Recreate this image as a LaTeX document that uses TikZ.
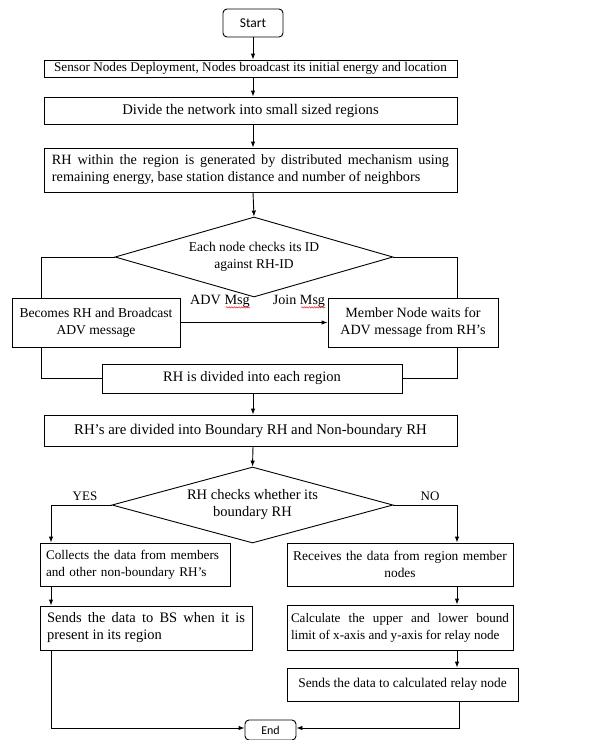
\documentclass[tikz,border=0pt]{standalone}
\usepackage{fontspec}
\setmainfont{Liberation Serif}
\newfontfamily\calib{Carlito}
\usetikzlibrary{shapes.geometric,arrows.meta,decorations.pathmorphing}
\newcommand{\fs}[1]{\fontsize{#1}{17}\selectfont}
\begin{document}
\begin{tikzpicture}[x=1pt,y=-1pt,
  txt/.style={font=\fontsize{14}{17}\selectfont},
  box/.style={draw,line width=0.9pt,inner sep=0pt,align=center,txt},
  dia/.style={draw,diamond,shape aspect=3.5,inner sep=0pt,line width=0.9pt,align=center,txt},
  term/.style={draw,rounded corners=4pt,line width=0.9pt,inner sep=0pt},
  arr/.style={-{Latex[length=6pt,width=4.5pt]},line width=0.9pt},
  ln/.style={line width=0.9pt},
  lbl/.style={inner sep=0pt,txt},
  squig/.style={red,line width=0.4pt,decorate,decoration={snake,amplitude=0.7pt,segment length=2.5pt}}]
\useasboundingbox (0,0) rectangle (596,740);
\fill[white] (0,0) rectangle (596,740);

\node[term,minimum width=60pt,minimum height=28pt,font=\calib\fontsize{13.5}{15}\selectfont] (start) at (253,23) {Start};
\node[box,minimum width=413pt,minimum height=17pt,font=\fs{13.2}] (b1) at (250.5,68.5)
  {Sensor Nodes Deployment, Nodes broadcast its initial energy and location};
\node[box,minimum width=413pt,minimum height=27pt,font=\fs{14.7}] (b2) at (250.5,110.5)
  {Divide the network into small sized regions};
\node[box,minimum width=413pt,minimum height=44pt,text width=397pt,align=justify,font=\fs{14.2}] (b3) at (250.5,170)
  {RH within the region is generated by distributed mechanism using\linebreak remaining energy, base station distance and number of neighbors};
\node[dia,minimum width=278pt,minimum height=80pt,font=\fs{13.5}] (d1) at (254,257)
  {Each node checks its ID\\against RH-ID};
\node[box,minimum width=168pt,minimum height=49pt,font=\fs{13.6}] (b4) at (96,322.5)
  {Becomes RH and Broadcast\\ADV message};
\node[box,minimum width=170pt,minimum height=49pt,font=\fs{14.1}] (b5) at (413,322.5)
  {Member Node waits for\\ADV message from RH's};
\node[box,minimum width=300pt,minimum height=29pt,font=\fs{14.5}] (b6) at (252,378.5)
  {RH is divided into each region};
\node[box,minimum width=413pt,minimum height=31pt,font=\fs{14.8}] (b7) at (250.5,430.5)
  {RH's are divided into Boundary RH and Non-boundary RH};
\node[dia,minimum width=281pt,minimum height=76pt,font=\fs{14.5}] (d2) at (252.5,505)
  {RH checks whether its\\boundary RH};
\node[box,minimum width=190pt,minimum height=43pt,text width=178pt,align=left,font=\fs{13.2}] (b8) at (135,564.5)
  {Collects the data from members\\and other non-boundary RH's};
\node[box,minimum width=226pt,minimum height=43pt,text width=220pt,font=\fs{13.4}] (b9) at (400,564.5)
  {Receives the data from region member\\nodes};
\node[box,minimum width=212pt,minimum height=44pt,text width=198pt,align=justify,font=\fs{14.5}] (b10) at (146,628)
  {Sends the data to BS when it is\linebreak present in its region};
\node[box,minimum width=226pt,minimum height=45pt,text width=218pt,align=justify,font=\fs{13.1}] (b11) at (400,627.5)
  {Calculate the upper and lower bound\linebreak limit of x-axis and y-axis for relay node};
\node[box,minimum width=231pt,minimum height=33pt,font=\fs{13.4}] (b12) at (402.5,684.5)
  {Sends the data to calculated relay node};
\node[term,minimum width=51pt,minimum height=20pt,font=\calib\fontsize{12}{14}\selectfont] (end) at (270.5,730) {End};

\node[lbl,font=\fs{14.2}] (adv) at (220,301) {ADV Msg};
\node[lbl,font=\fs{14.1}] (join) at (299,301) {Join Msg};
\node[lbl,font=\fs{13}] (yes) at (85,496) {YES};
\node[lbl,font=\fs{13}] (no) at (430,496) {NO};
\draw[squig] ([xshift=-24pt]adv.south east) -- (adv.south east);
\draw[squig] ([xshift=-24pt]join.south east) -- (join.south east);

\coordinate (lx) at (41,257);
\coordinate (rx) at (457,257);
\coordinate (yx) at (51,505);
\coordinate (nx) at (457,505);
\coordinate (ex) at (459,505);

\draw[arr] (start) -- (start |- b1.north);
\draw[arr] (b1.south -| start) -- (start |- b2.north);
\draw[arr] (b2.south -| start) -- (start |- b3.north);
\draw[arr] (b3.south -| start) -- (d1.north);
\draw[ln] (d1.west) -- (lx) -- (lx |- b4.north);
\draw[ln] (d1.east) -- (rx) -- (rx |- b5.north);
\draw[arr] (b4.east) -- (b5.west);
\draw[ln] (lx |- b4.south) |- (b6.west);
\draw[ln] (rx |- b5.south) |- (b6.east);
\draw[arr] (b6.south -| start) -- (start |- b7.north);
\draw[arr] (b7.south -| start) -- (d2.north);
\draw[arr] (d2.west) -- (yx) -- (yx |- b8.north);
\draw[arr] (d2.east) -- (nx) -- (nx |- b9.north);
\draw[arr] (yx |- b8.south) -- (yx |- b10.north);
\draw[arr] (nx |- b9.south) -- (nx |- b11.north);
\draw[arr] (nx |- b11.south) -- (nx |- b12.north);
\draw[arr] (yx |- b10.south) |- ([yshift=2pt]end.west);
\draw[arr] (ex |- b12.south) |- ([yshift=2pt]end.east);
\end{tikzpicture}
\end{document}
